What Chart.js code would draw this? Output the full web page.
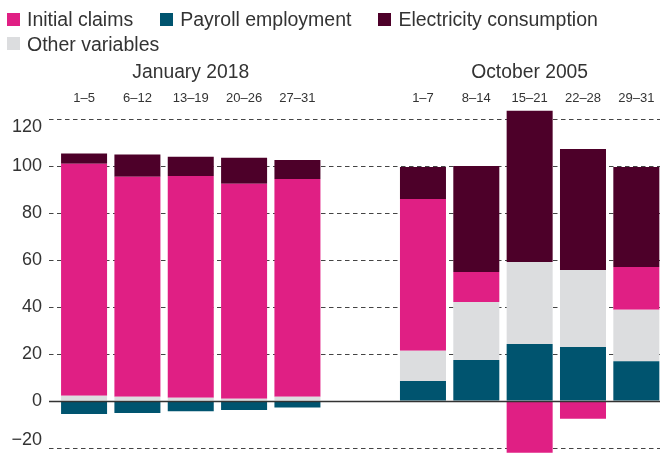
<!DOCTYPE html>
<html>
<head>
<meta charset="utf-8">
<script src="https://cdn.jsdelivr.net/npm/chart.js@4.4.1/dist/chart.umd.min.js"></script>
<style>
    html, body { margin: 0; padding: 0; background: #fff; overflow: hidden; }
    #wrap { position: relative; width: 660px; height: 453px; overflow: hidden; }
    #chart { position: absolute; left: 0; top: 0; }
    #legend {
        position: absolute; left: 7px; top: 7px; width: 650px;
        display: flex; flex-wrap: wrap; column-gap: 27px;
        font: 19.5px "Liberation Sans", Arial, sans-serif; color: #333; line-height: 24.5px;
    }
    .item { display: flex; align-items: center; white-space: nowrap; }
    .swatch { width: 13px; height: 13px; margin-right: 7px; }
</style>
</head>
<body>
<div id="wrap">
    <canvas id="chart" width="663" height="453"></canvas>
    <div id="legend"></div>
</div>
<script>
// Недели по месяцам
const janWeeks = ['1–5', '6–12', '13–19', '20–26', '27–31'];
const octWeeks = ['1–7', '8–14', '15–21', '22–28', '29–31'];

// Январь 2018
const janPayroll = [-5.5, -5.1, -4.3, -3.8, -2.8];
const janOther = [2.3, 1.8, 1.4, 1.0, 1.8];
const janClaims = [98.8, 93.7, 94.5, 91.5, 92.8];
const janElectricity = [4.3, 9.5, 8.1, 11.1, 8.1];

// Октябрь 2005
const octPayroll = [8.5, 17.5, 24.3, 23.0, 17.0];
const octOther = [12.9, 24.7, 34.9, 32.8, 21.9];
const octClaims = [64.7, 12.8, -22.0, -7.5, 18.2];
const octElectricity = [13.6, 45.1, 64.4, 51.6, 42.6];

const yTicks = { min: -20, max: 120, step: 20 };

const TEXT = '#333';
const COLORS = {
    claims: '#e01f84',
    payroll: '#00546f',
    electricity: '#4d0029',
    other: '#dcdddf'
};

// Порядок снизу вверх в стопке
const series = [
    { key: 'payroll', label: 'Payroll employment', jan: janPayroll, oct: octPayroll },
    { key: 'other', label: 'Other variables', jan: janOther, oct: octOther },
    { key: 'claims', label: 'Initial claims', jan: janClaims, oct: octClaims },
    { key: 'electricity', label: 'Electricity consumption', jan: janElectricity, oct: octElectricity }
];
const legendOrder = ['claims', 'payroll', 'electricity', 'other'];

Chart.defaults.font.family = '"Liberation Sans", Arial, sans-serif';
Chart.defaults.color = TEXT;

// Легенда
const legendEl = document.getElementById('legend');
legendOrder.forEach(key => {
    const s = series.find(item => item.key === key);
    const item = document.createElement('div');
    item.className = 'item';
    item.innerHTML = `<span class="swatch" style="background:${COLORS[key]}"></span>${s.label}`;
    legendEl.appendChild(item);
});

const AXIS_HEIGHT = 57.9;

function weekAxis(labels, title, stackWeight, order) {
    return {
        type: 'category',
        axis: 'x',
        position: 'top',
        stack: 'weeks',
        stackWeight: stackWeight,
        weight: order,
        labels: labels,
        offset: true,
        stacked: true,
        grid: { display: false, drawTicks: false },
        border: { display: false },
        ticks: { color: TEXT, font: { size: 13 }, padding: 13.5, maxRotation: 0, autoSkip: false },
        title: {
            display: !!title,
            text: title || '',
            color: TEXT,
            font: { size: 19.3 },
            padding: { top: 0, bottom: 0 }
        },
        afterFit(scale) {
            scale.height = AXIS_HEIGHT;
            scale.paddingLeft = 0;
            scale.paddingRight = 0;
        }
    };
}

// Подписи оси Y: крайние значения сдвинуты внутрь области графика
function yLabel(value) {
    const text = String(value).replace('-', '\u2212');
    if (value === yTicks.max) return ['', text];
    if (value === yTicks.min) return [text, ''];
    return text;
}

const datasets = [];
['jan', 'oct'].forEach(group => {
    series.forEach(s => {
        datasets.push({
            label: s.label,
            data: s[group],
            xAxisID: group,
            backgroundColor: COLORS[s.key],
            borderWidth: 0,
            grouped: false,
            categoryPercentage: 1,
            barPercentage: 0.8625,
            clip: false
        });
    });
});

// Сплошная линия нуля
const zeroLine = {
    id: 'zeroLine',
    afterDatasetsDraw(chart) {
        const { ctx, chartArea, scales } = chart;
        const y = Math.round(scales.y.getPixelForValue(0)) + 0.5;
        ctx.save();
        ctx.strokeStyle = '#333';
        ctx.lineWidth = 1.3;
        ctx.beginPath();
        ctx.moveTo(chartArea.left, y);
        ctx.lineTo(chartArea.right, y);
        ctx.stroke();
        ctx.restore();
    }
};

new Chart(document.getElementById('chart'), {
    type: 'bar',
    data: { datasets: datasets },
    options: {
        responsive: false,
        animation: false,
        devicePixelRatio: 1,
        layout: { padding: { top: 61.4, bottom: 5, left: 0, right: 0 } },
        plugins: {
            legend: { display: false },
            tooltip: { enabled: false }
        },
        scales: {
            lead: weekAxis([''], '', 8.4, 4),
            jan: weekAxis(janWeeks, 'January 2018', 266.7, 3),
            mid: weekAxis([''], '', 72.2, 2),
            oct: weekAxis(octWeeks, 'October 2005', 266.7, 1),
            y: {
                type: 'linear',
                position: 'left',
                min: yTicks.min,
                max: yTicks.max,
                stacked: true,
                ticks: {
                    stepSize: yTicks.step,
                    color: TEXT,
                    font: { size: 18, lineHeight: 0.9 },
                    padding: 7,
                    callback: yLabel
                },
                grid: { color: '#444', lineWidth: 1, drawTicks: false },
                border: { display: false, dash: [4.5, 3.5] },
                afterFit(scale) {
                    scale.width = 49;
                    scale.paddingTop = 0;
                    scale.paddingBottom = 0;
                }
            }
        }
    },
    plugins: [zeroLine]
});
</script>
</body>
</html>
